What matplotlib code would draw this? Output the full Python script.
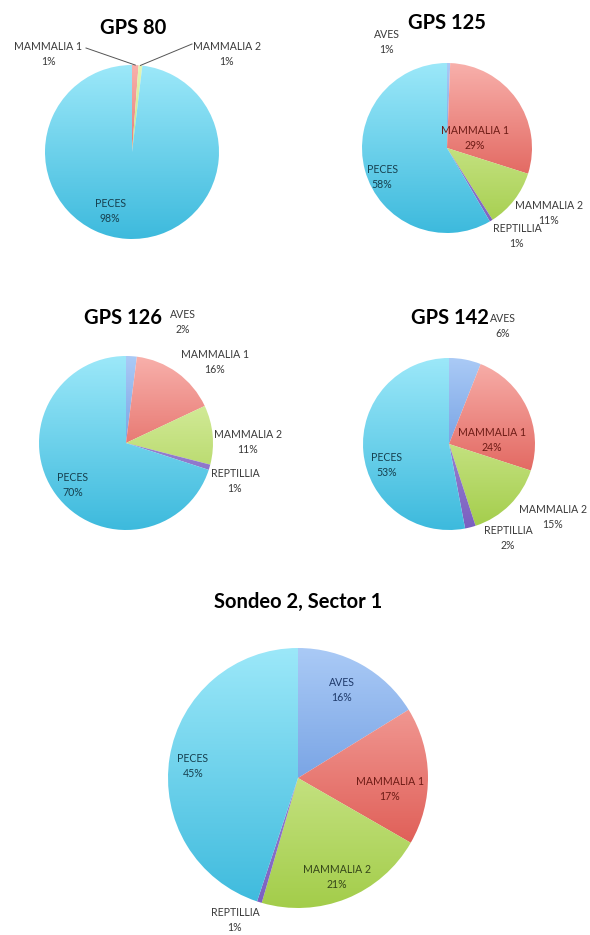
#!/usr/bin/env python3
"""
Composition of prey remains per sample (five pie charts, Excel-like style).
Saves out.png at 590x935 pixels.
"""

import numpy as np
import matplotlib
matplotlib.use("Agg")
import matplotlib.pyplot as plt
from matplotlib.colors import to_rgb

# Figure size in pixels (dpi 100)
W, H = 590, 935

# --- data (percent, estimated from the slices; labels show rounded values) ---
categories = ['AVES', 'MAMMALIA 1', 'MAMMALIA 2', 'REPTILLIA', 'PECES']
titles = ['GPS 80', 'GPS 125', 'GPS 126', 'GPS 142', 'Sondeo 2, Sector 1']

gps80 = [0, 1.2, 0.7, 0, 98.1]
gps125 = [0.6, 29.3, 11.1, 0.6, 58.4]
gps126 = [2, 16, 11, 1, 70]
gps142 = [6, 24, 15, 2, 53]
sondeo = [16.2, 17.1, 21.2, 0.6, 44.9]

# --- style ----------------------------------------------------------------
# light (top) and dark (bottom) colour of the vertical gradient per category
gradients = {
    'AVES': ('#aacaf6', '#4a80d4'),
    'MAMMALIA 1': ('#f8b0ab', '#d8453d'),
    'MAMMALIA 2': ('#e4f5b5', '#a3cd4a'),
    'REPTILLIA': ('#b4a2e0', '#7a5fc0'),
    'PECES': ('#9ce8f9', '#3dbadd'),
}
# text colour for labels drawn inside a slice
inside_text = {
    'AVES': '#1f3a6b',
    'MAMMALIA 1': '#6e1c16',
    'MAMMALIA 2': '#35461a',
    'REPTILLIA': '#3a2a66',
    'PECES': '#17404f',
}
outside_text = '#3a3a3a'

# layout in pixel coordinates (origin top-left)
layouts = [
    dict(center=(132, 152), radius=87, title=(133, 28),
         labels={'MAMMALIA 1': (48, 54), 'MAMMALIA 2': (227, 54), 'PECES': (110, 211)},
         inside={'PECES'},
         leaders={'MAMMALIA 1': (86, 48), 'MAMMALIA 2': (192, 44)}),
    dict(center=(447, 148), radius=85, title=(447, 23),
         labels={'AVES': (387, 42), 'MAMMALIA 1': (475, 138), 'MAMMALIA 2': (549, 213),
                 'REPTILLIA': (517, 236), 'PECES': (382, 177)},
         inside={'MAMMALIA 1', 'PECES'}, leaders={}),
    dict(center=(126, 443), radius=87, title=(123, 318),
         labels={'AVES': (183, 322), 'MAMMALIA 1': (215, 362), 'MAMMALIA 2': (248, 442),
                 'REPTILLIA': (235, 481), 'PECES': (73, 485)},
         inside={'PECES'}, leaders={}),
    dict(center=(449, 444), radius=86, title=(450, 318),
         labels={'AVES': (503, 326), 'MAMMALIA 1': (492, 440), 'MAMMALIA 2': (553, 517),
                 'REPTILLIA': (508, 538), 'PECES': (387, 465)},
         inside={'MAMMALIA 1', 'PECES'}, leaders={}),
    dict(center=(298, 778), radius=130, title=(298, 602),
         labels={'AVES': (342, 690), 'MAMMALIA 1': (390, 789), 'MAMMALIA 2': (337, 877),
                 'REPTILLIA': (235, 920), 'PECES': (193, 766)},
         inside={'AVES', 'MAMMALIA 1', 'MAMMALIA 2', 'PECES'}, leaders={}),
]


def px(x, y):
    """Convert top-left pixel coordinates to data coordinates."""
    return x, H - y


def draw_pie(ax, values, title, layout):
    cx, cy = px(*layout['center'])
    r = layout['radius']
    wedges, _ = ax.pie(values, startangle=90, counterclock=False,
                       center=(cx, cy), radius=r,
                       colors=[gradients[c][1] for c in categories],
                       wedgeprops=dict(linewidth=0))

    # shaded fill: a vertical gradient clipped to every wedge
    for w, cat, v in zip(wedges, categories, values):
        w.set_facecolor('none')
        if v == 0:
            continue
        top, bottom = gradients[cat]
        grad = np.linspace(to_rgb(top), to_rgb(bottom), 256)[:, None, :]
        im = ax.imshow(grad, extent=(cx - r, cx + r, cy - r, cy + r),
                       origin='upper', aspect='auto', interpolation='bilinear', zorder=2)
        im.set_clip_path(w)

    # labels (rounded half up, like Excel)
    for w, cat, v in zip(wedges, categories, values):
        if cat not in layout['labels']:
            continue
        lx, ly = px(*layout['labels'][cat])
        color = inside_text[cat] if cat in layout['inside'] else outside_text
        ax.text(lx, ly, f"{cat}\n{int(v + 0.5)}%", ha='center', va='center', fontsize=7.6,
                color=color, linespacing=1.4, zorder=4)
        if cat in layout['leaders']:
            theta = np.deg2rad((w.theta1 + w.theta2) / 2)
            ex, ey = px(*layout['leaders'][cat])
            ax.plot([ex, cx + r * np.cos(theta)], [ey, cy + r * np.sin(theta)],
                    color='#555555', linewidth=0.7, zorder=4)

    tx, ty = px(*layout['title'])
    ax.text(tx, ty, title, ha='center', va='center', fontsize=14.5,
            fontweight='bold', color='black', zorder=4)


def main():
    plt.rcParams['font.family'] = ['Lato', 'DejaVu Sans']

    fig = plt.figure(figsize=(W / 100, H / 100), dpi=100)
    ax = fig.add_axes([0, 0, 1, 1])

    for values, title, layout in zip([gps80, gps125, gps126, gps142, sondeo], titles, layouts):
        draw_pie(ax, values, title, layout)

    ax.set_xlim(0, W)
    ax.set_ylim(0, H)
    ax.set_aspect('auto')
    ax.axis('off')

    fig.savefig('out.png', dpi=100, facecolor='white')


if __name__ == "__main__":
    main()
